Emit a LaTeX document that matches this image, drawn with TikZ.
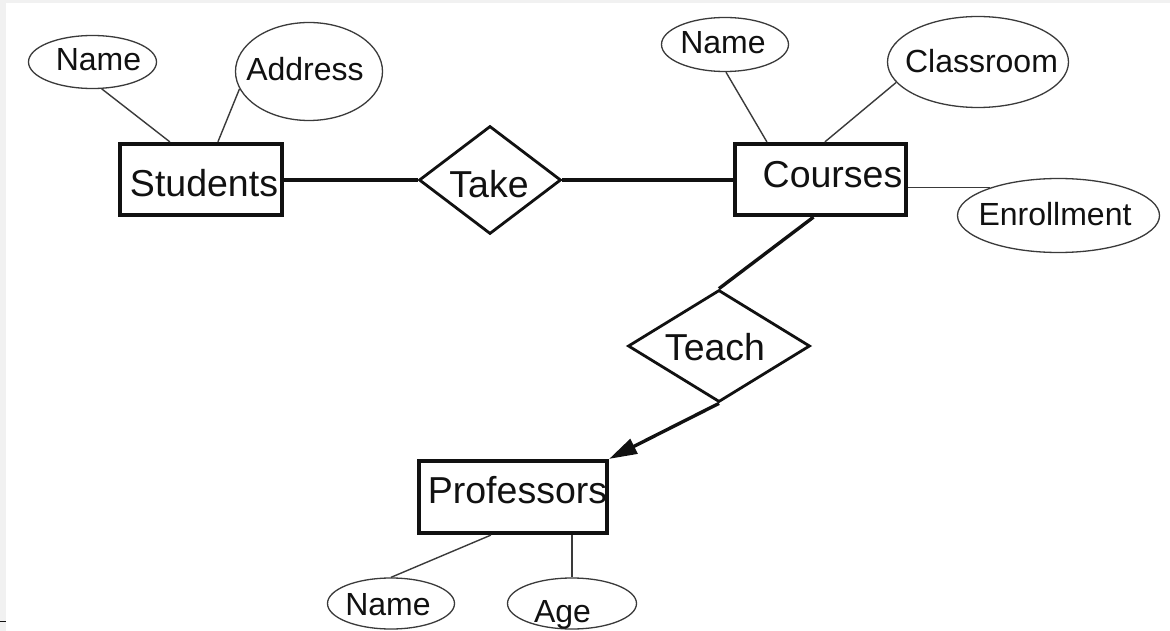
\documentclass[tikz,border=0pt]{standalone}
\usepackage{fontspec}
\setmainfont{Liberation Sans}
\usetikzlibrary{shapes.geometric,arrows.meta,calc}

\definecolor{ink}{HTML}{111111}
\definecolor{thin}{HTML}{3A3A3A}
\definecolor{margin}{HTML}{F1F1F1}

% label set at a given offset from the centre of its shape, taking no room
% #1 = twice the horizontal offset, #2 = baseline raise, #3 = text
\newcommand\ertext[3]{\raisebox{#2}[0pt][0pt]{\makebox[0pt]{\hspace*{#1}#3}}}

\tikzset{
  entity/.style={draw=ink, line width=4.2pt, rectangle, inner sep=0pt,
    text=ink, font=\fontsize{37.5}{40}\selectfont},
  relation/.style={draw=ink, line width=2.8pt, diamond, inner sep=0pt,
    text=ink, font=\fontsize{37.5}{40}\selectfont},
  attrib/.style={draw=thin, line width=1.3pt, ellipse, inner sep=0pt,
    text=ink, font=\fontsize{32}{34}\selectfont},
  attrline/.style={draw=thin, line width=1.4pt},
  relline/.style={draw=ink, line width=3.4pt},
}

\begin{document}
\begin{tikzpicture}[x=1pt, y=-1pt]
  % page frame
  \useasboundingbox (0,0) rectangle (1170,631);
  \fill[white] (0,0) rectangle (1170,631);
  \fill[margin] (0,0) rectangle (1170,3);
  \fill[margin] (0,0) rectangle (5.5,631);
  \draw[ink, line width=1pt] (0,621) -- (6,621);

  % entities
  \node[entity, minimum width=162pt, minimum height=71pt] (students) at (201,179.5)
    {\ertext{6pt}{-17.4pt}{Students}};
  \node[entity, minimum width=171pt, minimum height=71pt] (courses) at (820.5,179.5)
    {\ertext{24pt}{-7.9pt}{Courses}};
  \node[entity, minimum width=188pt, minimum height=72pt] (prof) at (513,497)
    {\ertext{9pt}{-6.4pt}{Professors}};

  % relationships
  \node[relation, minimum width=142pt, minimum height=108pt] (take) at (490,180)
    {\ertext{-2pt}{-17.9pt}{Take}};
  \node[relation, minimum width=182pt, minimum height=112pt] (teach) at (719,346)
    {\ertext{-8pt}{-14.4pt}{Teach}};

  % attributes
  \node[attrib, minimum width=128pt, minimum height=53pt] (sname) at (92.5,62)
    {\ertext{12pt}{-9pt}{Name}};
  \node[attrib, minimum width=147pt, minimum height=98pt] (saddr) at (309,71.5)
    {\ertext{-8pt}{-9pt}{Address}};
  \node[attrib, minimum width=127pt, minimum height=54pt] (cname) at (725,44.5)
    {\ertext{-4pt}{-9.5pt}{Name}};
  \node[attrib, minimum width=181pt, minimum height=91pt] (croom) at (978,62)
    {\ertext{7pt}{-10.5pt}{Classroom}};
  \node[attrib, minimum width=202pt, minimum height=74pt] (cenroll) at (1058.5,215.5)
    {\ertext{-7pt}{-10pt}{Enrollment}};
  \node[attrib, minimum width=127pt, minimum height=51pt] (pname) at (391,603.5)
    {\ertext{-6pt}{-11.5pt}{Name}};
  \node[attrib, minimum width=129pt, minimum height=51pt] (page) at (572,603.5)
    {\ertext{-19pt}{-19pt}{Age}};

  % attribute links
  \draw[attrline] (sname.-71) -- ([xshift=52pt]students.north west);
  \draw[attrline] (saddr.194) -- ([xshift=100pt]students.north west);
  \draw[attrline] (cname.-88) -- ([xshift=34pt]courses.north west);
  \draw[attrline] (croom.194) -- ([xshift=92pt]courses.north west);
  \draw[attrline] (courses.east |- cenroll.158) -- (cenroll.158);
  \draw[attrline] (pname.north) -- ([xshift=74pt]prof.south west);
  \draw[attrline] (page.north |- prof.south) -- (page.north);

  % relationship links
  \draw[relline] (take.west -| students.east) -- (take.west);
  \draw[relline] (take.east) -- (take.east -| courses.west);
  \draw[relline] ([xshift=-7pt]courses.south) -- (teach.north);
  \draw[relline, -{Triangle[length=28pt, width=16pt]}] (teach.south) -- (prof.north east);
\end{tikzpicture}
\end{document}
